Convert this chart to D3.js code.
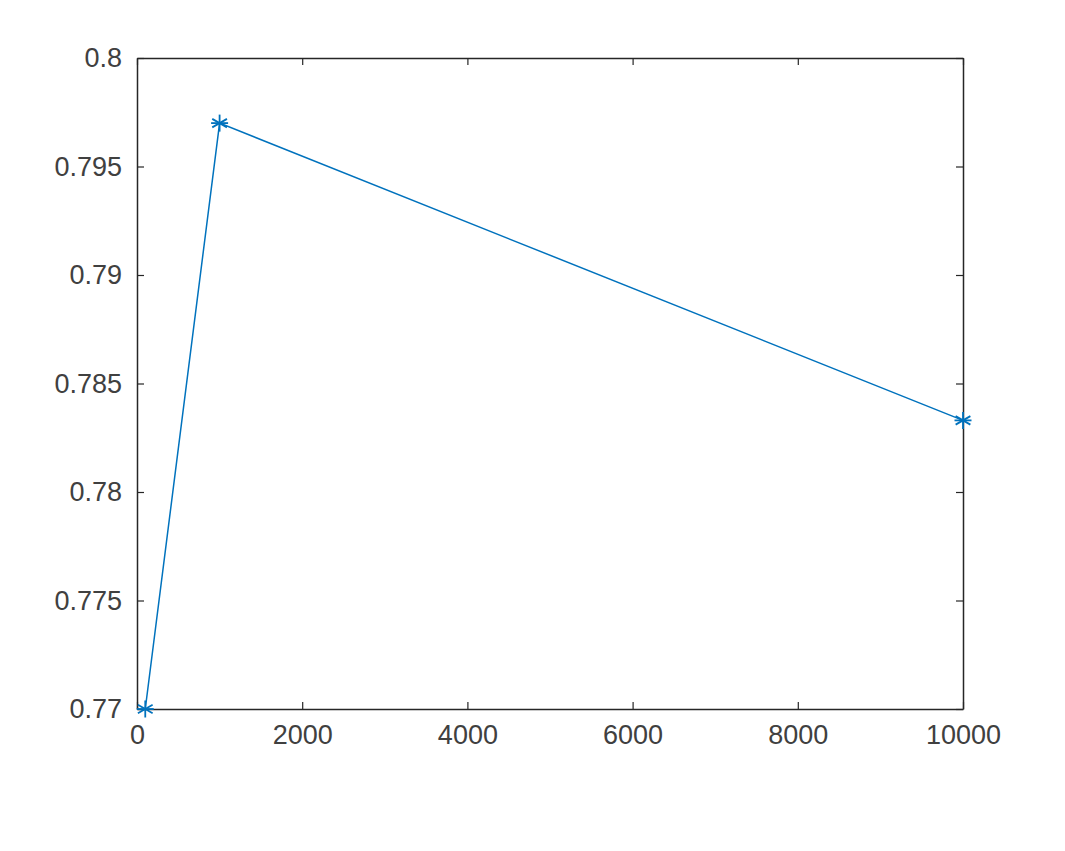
<!DOCTYPE html>
<html>
<head>
<meta charset="utf-8">
<script src="https://cdn.jsdelivr.net/npm/d3@7"></script>
<style>
  body { margin: 0; background: #fff; }
  text { font-family: "Liberation Sans", Arial, sans-serif; }
</style>
</head>
<body>
<div id="chart"></div>
<script>
var w = 1065;
var h = 851;

// data
var xValues = [100, 1000, 10000];
var yValues = [0.77, 0.797, 0.7833];
var xTicks = [0, 2000, 4000, 6000, 8000, 10000];
var yTicks = [0.77, 0.775, 0.78, 0.785, 0.79, 0.795, 0.8];

var plotLeft = 137, plotRight = 963, plotTop = 58, plotBottom = 709;
var tickLen = 7;
var axisColor = "#262626";
var textColor = "#404040";
var lineColor = "#0072BD";

var svg = d3
  .select("#chart")
  .append("svg")
  .attr("width", w)
  .attr("height", h);

// scales
var xScale = d3.scaleLinear().domain([0, 10000]).range([plotLeft, plotRight]);
var yScale = d3.scaleLinear().domain([0.77, 0.8]).range([plotBottom, plotTop]);

// axes with inward ticks
var fmtY = function (d) { return String(+d.toFixed(3)); };
var fmtX = function (d) { return String(d); };

var gBottom = svg.append("g").attr("transform", "translate(0," + plotBottom + ")")
  .call(d3.axisBottom(xScale).tickValues(xTicks).tickSizeInner(-tickLen).tickSizeOuter(0).tickPadding(16).tickFormat(fmtX));
var gTop = svg.append("g").attr("transform", "translate(0," + plotTop + ")")
  .call(d3.axisTop(xScale).tickValues(xTicks).tickSizeInner(-tickLen).tickSizeOuter(0).tickFormat(""));
var gLeft = svg.append("g").attr("transform", "translate(" + plotLeft + ",0)")
  .call(d3.axisLeft(yScale).tickValues(yTicks).tickSizeInner(-tickLen).tickSizeOuter(0).tickPadding(15).tickFormat(fmtY));
var gRight = svg.append("g").attr("transform", "translate(" + plotRight + ",0)")
  .call(d3.axisRight(yScale).tickValues(yTicks).tickSizeInner(-tickLen).tickSizeOuter(0).tickFormat(""));

[gBottom, gTop, gLeft, gRight].forEach(function (g) {
  g.select(".domain").attr("stroke", axisColor).attr("stroke-width", 1.5);
  g.selectAll(".tick line").attr("stroke", axisColor).attr("stroke-width", 1.2);
  g.selectAll(".tick text")
    .attr("fill", textColor)
    .style("font-size", "27px")
    .style("font-family", "'Liberation Sans', Arial, sans-serif");
});

// line
var line = d3.line()
  .x(function (d, i) { return xScale(xValues[i]); })
  .y(function (d) { return yScale(d); });

svg.append("path")
  .datum(yValues)
  .attr("d", line)
  .attr("fill", "none")
  .attr("stroke", lineColor)
  .attr("stroke-width", 1.5);

// asterisk markers
var markers = svg.selectAll("g.marker")
  .data(yValues)
  .enter()
  .append("g")
  .attr("class", "marker")
  .attr("transform", function (d, i) {
    return "translate(" + xScale(xValues[i]) + "," + yScale(d) + ")";
  });

var r = 8.5;
[0, 60, 120].forEach(function (a) {
  markers.append("line")
    .attr("x1", 0).attr("y1", -r)
    .attr("x2", 0).attr("y2", r)
    .attr("transform", "rotate(" + a + ")")
    .attr("stroke", lineColor)
    .attr("stroke-width", 1.8);
});
markers.append("line")
  .attr("x1", -r).attr("y1", 0).attr("x2", r).attr("y2", 0)
  .attr("stroke", lineColor)
  .attr("stroke-width", 1.8);
</script>
</body>
</html>
